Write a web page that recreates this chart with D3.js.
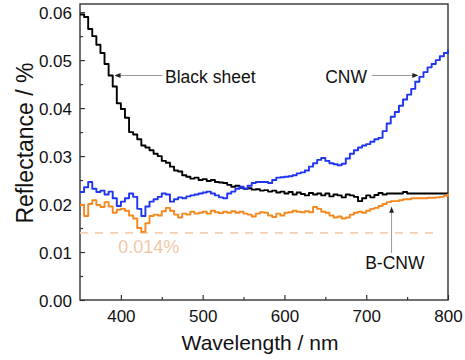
<!DOCTYPE html>
<html>
<head>
<meta charset="utf-8">
<script src="https://cdn.jsdelivr.net/npm/d3@7"></script>
<style>
  body { margin: 0; background: #fff; }
  text { font-family: "Liberation Sans", Arial, sans-serif; }
</style>
</head>
<body>
<div id="chart"></div>
<script>
var width = 465,
    height = 360,
    margin = {top: 4, right: 17, bottom: 60, left: 80};

// wavelength grid (nm)
var wavelengths = [350,355,360,365,370,375,380,385,390,395,400,405,410,415,420,425,430,435,440,445,
  450,455,460,465,470,475,480,485,490,495,500,505,510,515,520,525,530,535,540,545,
  550,555,560,565,570,575,580,585,590,595,600,605,610,615,620,625,630,635,640,645,
  650,655,660,665,670,675,680,685,690,695,700,705,710,715,720,725,730,735,740,745,
  750,755,760,765,770,775,780,785,790,795,800];

var blackSheet = [0.0595,0.0590,0.0565,0.0550,0.0532,0.0515,0.0492,0.0468,0.0445,0.0410,
  0.0398,0.0380,0.0350,0.0345,0.0335,0.0322,0.0318,0.0312,0.0305,0.0300,
  0.0290,0.0286,0.0278,0.0270,0.0268,0.0260,0.0257,0.0253,0.0255,0.0250,
  0.0252,0.0248,0.0250,0.0246,0.0245,0.0244,0.0240,0.0236,0.0238,0.0234,
  0.0232,0.0233,0.0230,0.0231,0.0228,0.0229,0.0226,0.0228,0.0224,0.0226,
  0.0222,0.0225,0.0220,0.0224,0.0221,0.0218,0.0223,0.0220,0.0222,0.0218,
  0.0222,0.0216,0.0220,0.0218,0.0214,0.0220,0.0218,0.0215,0.0206,0.0212,
  0.0218,0.0214,0.0219,0.0223,0.0220,0.0222,0.0222,0.0222,0.0222,0.0225,
  0.0222,0.0222,0.0222,0.0222,0.0222,0.0222,0.0222,0.0222,0.0222,0.0222,0.0222];

var cnw = [0.0225,0.0235,0.0246,0.0232,0.0225,0.0228,0.0220,0.0226,0.0212,0.0196,
  0.0205,0.0212,0.0222,0.0215,0.0190,0.0175,0.0195,0.0205,0.0210,0.0215,
  0.0222,0.0220,0.0205,0.0210,0.0214,0.0212,0.0216,0.0218,0.0220,0.0222,
  0.0224,0.0226,0.0222,0.0218,0.0214,0.0212,0.0222,0.0226,0.0232,0.0236,
  0.0232,0.0238,0.0244,0.0246,0.0246,0.0246,0.0244,0.0250,0.0255,0.0256,
  0.0257,0.0258,0.0260,0.0264,0.0266,0.0270,0.0278,0.0285,0.0292,0.0296,
  0.0290,0.0285,0.0283,0.0281,0.0284,0.0295,0.0305,0.0312,0.0318,0.0322,
  0.0325,0.0330,0.0335,0.0338,0.0352,0.0368,0.0382,0.0392,0.0405,0.0418,
  0.0428,0.0440,0.0455,0.0465,0.0475,0.0485,0.0492,0.0500,0.0508,0.0515,0.0522];

var bCnw = [0.0198,0.0175,0.0200,0.0208,0.0198,0.0194,0.0204,0.0195,0.0182,0.0188,
  0.0190,0.0186,0.0176,0.0170,0.0150,0.0142,0.0160,0.0175,0.0178,0.0176,
  0.0185,0.0192,0.0186,0.0178,0.0172,0.0180,0.0178,0.0184,0.0180,0.0182,
  0.0184,0.0180,0.0186,0.0183,0.0181,0.0184,0.0182,0.0185,0.0182,0.0184,
  0.0180,0.0178,0.0174,0.0180,0.0183,0.0182,0.0176,0.0173,0.0180,0.0176,
  0.0182,0.0183,0.0186,0.0184,0.0183,0.0185,0.0183,0.0194,0.0190,0.0184,
  0.0182,0.0176,0.0172,0.0174,0.0170,0.0172,0.0178,0.0182,0.0184,0.0182,
  0.0186,0.0190,0.0192,0.0196,0.0200,0.0204,0.0206,0.0206,0.0208,0.0210,
  0.0210,0.0212,0.0212,0.0212,0.0212,0.0213,0.0213,0.0214,0.0215,0.0217,0.0222];

var seriesNames = ["Black sheet", "CNW", "B-CNW"];
var seriesColors = ["#000000", "#1f35f0", "#f5891f"];
var refLevel = 0.014, refLabel = "0.014%";

var xTicks = [400, 500, 600, 700, 800],
    yTicks = [0.00, 0.01, 0.02, 0.03, 0.04, 0.05, 0.06];

var w = width - margin.left - margin.right,
    h = height - margin.top - margin.bottom;

var svg = d3.select("#chart").append("svg")
  .attr("width", width)
  .attr("height", height);

var defs = svg.append("defs");
defs.append("marker")
  .attr("id", "arrow")
  .attr("viewBox", "0 0 10 10")
  .attr("refX", 9).attr("refY", 5)
  .attr("markerWidth", 6).attr("markerHeight", 6)
  .attr("markerUnits", "userSpaceOnUse")
  .attr("orient", "auto")
  .append("path")
  .attr("d", "M0,1L10,5L0,9z")
  .attr("fill", "#222");

var g = svg.append("g")
  .attr("transform", "translate(" + margin.left + "," + margin.top + ")");

var x = d3.scaleLinear().domain([350, 800]).range([0, w]);
var y = d3.scaleLinear().domain([0, 0.0617]).range([h, 0]);

// minor ticks first (inward)
g.append("g")
  .attr("transform", "translate(0," + h + ")")
  .call(d3.axisBottom(x).tickValues([450, 550, 650, 750]).tickSize(-3).tickFormat(""))
  .call(s => s.select(".domain").remove());
g.append("g")
  .call(d3.axisLeft(y).tickValues([0.005, 0.015, 0.025, 0.035, 0.045, 0.055]).tickSize(-3).tickFormat(""))
  .call(s => s.select(".domain").remove());

var xAxis = g.append("g")
  .attr("transform", "translate(0," + h + ")")
  .call(d3.axisBottom(x).tickValues(xTicks).tickSize(-5).tickPadding(10).tickFormat(d3.format("d")));
var yAxis = g.append("g")
  .call(d3.axisLeft(y).tickValues(yTicks).tickSize(-5).tickPadding(8).tickFormat(d3.format(".2f")));

g.selectAll(".tick line").attr("stroke", "#333").attr("stroke-width", 1.2);
xAxis.selectAll("text").style("font-size", "17px").attr("fill", "#111");
yAxis.selectAll("text").style("font-size", "17px").attr("fill", "#111").attr("dy", "0.36em");
g.selectAll(".domain").remove();

// frame
g.append("rect")
  .attr("width", w).attr("height", h)
  .attr("fill", "none")
  .attr("stroke", "#333")
  .attr("stroke-width", 1.4);

// reference level
g.append("line")
  .attr("x1", x(350)).attr("x2", x(790))
  .attr("y1", y(refLevel)).attr("y2", y(refLevel))
  .attr("stroke", "#f6cfae")
  .attr("stroke-width", 1.6)
  .attr("stroke-dasharray", "8,7");

g.append("text")
  .attr("x", x(434)).attr("y", y(0.0098))
  .attr("text-anchor", "middle")
  .style("font-size", "18px")
  .attr("fill", "#f1c9a9")
  .text(refLabel);

var line = d3.line()
  .curve(d3.curveStepAfter)
  .x(d => x(d[0]))
  .y(d => y(d[1]));

[blackSheet, cnw, bCnw].forEach(function(vals, i) {
  g.append("path")
    .datum(wavelengths.map((wl, j) => [wl, vals[j]]))
    .attr("d", line)
    .attr("fill", "none")
    .attr("stroke", seriesColors[i])
    .attr("stroke-width", 1.9)
    .attr("stroke-linejoin", "round");
});

// annotations
function arrow(x1, y1, x2, y2) {
  g.append("line")
    .attr("x1", x(x1)).attr("y1", y(y1))
    .attr("x2", x(x2)).attr("y2", y(y2))
    .attr("stroke", "#999")
    .attr("stroke-width", 1)
    .attr("marker-end", "url(#arrow)");
}
function label(txt, lx, ly, anchor) {
  g.append("text")
    .attr("x", x(lx)).attr("y", y(ly))
    .attr("text-anchor", anchor)
    .style("font-size", "17.5px")
    .attr("fill", "#111")
    .text(txt);
}

label(seriesNames[0], 454, 0.0453, "start");
arrow(451, 0.0468, 393, 0.0468);

label(seriesNames[1], 701, 0.0453, "end");
arrow(707, 0.0468, 763, 0.0468);

label(seriesNames[2], 735, 0.0064, "middle");
arrow(731, 0.0098, 731, 0.0193);

// axis titles
svg.append("text")
  .attr("x", margin.left + w / 2 - 4)
  .attr("y", 350)
  .attr("text-anchor", "middle")
  .style("font-size", "21px")
  .attr("fill", "#111")
  .text("Wavelength / nm");

svg.append("text")
  .attr("transform", "translate(33,143) rotate(-90)")
  .attr("text-anchor", "middle")
  .style("font-size", "23px")
  .attr("fill", "#111")
  .text("Reflectance / %");
</script>
</body>
</html>
